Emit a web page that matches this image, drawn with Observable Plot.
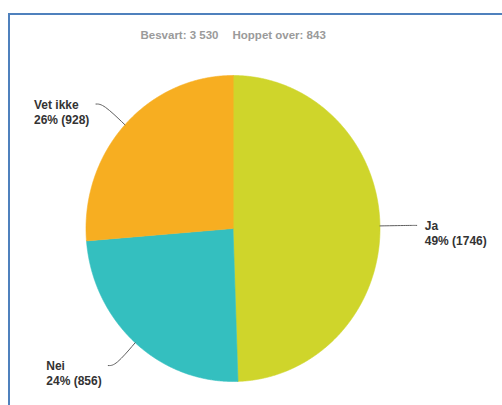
<!DOCTYPE html>
<html><head><meta charset="utf-8">
<script src="https://cdn.jsdelivr.net/npm/d3@7"></script>
<script src="https://cdn.jsdelivr.net/npm/@observablehq/plot@0.6"></script>
<style>
html,body{margin:0;padding:0;background:#fff;overflow:hidden;width:502px;height:405px}
#wrap{position:relative;width:502px;height:405px;overflow:hidden}
#border{position:absolute;left:8px;top:13px;width:600px;height:600px;border-left:2px solid #4f81bd;border-top:2px solid #4f81bd;}
#chart{position:absolute;left:0;top:0}
</style></head><body>
<div id="wrap"><div id="border"></div><div id="chart"></div></div>
<script>
const categories = ["Ja", "Nei", "Vet ikke"];
const counts = [1746, 856, 928];
const percents = [49, 24, 26];
const colors = ["#cfd52b", "#34bfbf", "#f7ae21"];
const answered = "3 530";
const skipped = 843;

const rows = categories.map((name, i) => ({name, count: counts[i], pct: percents[i]}));
const arcs = d3.pie().sort(null).value(d => d.count)(rows);

// slice polygons (unit circle, angle 0 at 12 o'clock, clockwise)
const slicePts = [];
for (const a of arcs) {
  const n = Math.max(2, Math.ceil((a.endAngle - a.startAngle) / 0.005));
  slicePts.push({name: a.data.name, x: 0, y: 0});
  for (let k = 0; k <= n; k++) {
    const t = a.startAngle + (a.endAngle - a.startAngle) * k / n;
    slicePts.push({name: a.data.name, x: Math.sin(t), y: Math.cos(t)});
  }
}

// leader lines and label anchors
const leaderPts = [];
const labels = [];
for (const a of arcs) {
  const m = (a.startAngle + a.endAngle) / 2;
  const s = Math.sin(m), c = Math.cos(m);
  const side = s >= 0 ? 1 : -1;
  const p1 = {x: s * 1.2, y: c * 1.2};
  const p2 = {x: p1.x + side * 0.05, y: p1.y};
  leaderPts.push({name: a.data.name, x: s, y: c});
  leaderPts.push({name: a.data.name, ...p1});
  leaderPts.push({name: a.data.name, ...p2});
  labels.push({...a.data, side, x: p2.x, y: p2.y});
}

const font = "'Liberation Sans', Arial, sans-serif";
const labelText = d => `${d.name}\n${d.pct}% (${d.count})`;

const chart = Plot.plot({
  width: 502,
  height: 405,
  margin: 0,
  style: {fontFamily: font, background: "transparent"},
  x: {domain: [-1, 1], range: [85.5, 379.5], axis: null},
  y: {domain: [-1, 1], range: [381, 75], axis: null},
  color: {domain: categories, range: colors},
  marks: [
    Plot.line(slicePts, {x: "x", y: "y", z: "name", fill: "name", stroke: "name", strokeWidth: 0.6, curve: "linear-closed"}),
    Plot.line(leaderPts, {x: "x", y: "y", z: "name", stroke: "#5f5f5f", strokeWidth: 1, curve: "basis"}),
    Plot.text(labels, {filter: d => d.side > 0, x: "x", y: "y", text: labelText, textAnchor: "start", lineAnchor: "middle", dx: 8, dy: 7.5, lineHeight: 1.25, fontSize: 12, fontWeight: "bold", fill: "#333"}),
    Plot.text(labels, {filter: d => d.side < 0, x: "x", y: "y", text: labelText, textAnchor: "start", lineAnchor: "middle", dx: -62, dy: 7.5, lineHeight: 1.25, fontSize: 12, fontWeight: "bold", fill: "#333"}),
    Plot.text([`Besvart: ${answered}`], {frameAnchor: "top", textAnchor: "end", lineAnchor: "middle", dx: -33, dy: 35, fontSize: 11.5, fontWeight: "bold", fill: "#9a9a9a"}),
    Plot.text([`Hoppet over: ${skipped}`], {frameAnchor: "top", textAnchor: "start", lineAnchor: "middle", dx: -19, dy: 35, fontSize: 11.5, fontWeight: "bold", fill: "#9a9a9a"})
  ]
});
document.getElementById("chart").append(chart);
</script>
</body></html>
